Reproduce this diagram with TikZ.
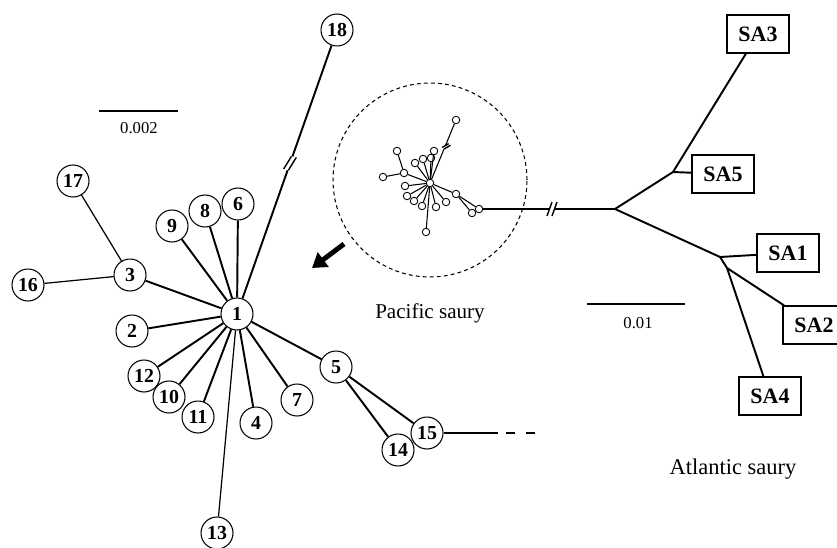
\documentclass[tikz,border=0pt]{standalone}
\usepackage{fontspec}
\setmainfont{Liberation Serif}
\usetikzlibrary{positioning, arrows, arrows.meta}

\tikzset{
    hap/.style={circle, draw, line width=0.6pt, minimum size=0.64cm, inner sep=0pt,
        font=\fontsize{11.3}{13}\selectfont\bfseries},
    mini/.style={circle, draw, line width=0.5pt, minimum size=0.15cm, inner sep=0pt},
    sabox/.style={rectangle, draw, line width=0.6pt, minimum width=1.24cm, minimum height=0.76cm,
        font=\fontsize{12.5}{14}\selectfont\bfseries},
    brk/.pic={
        \fill[white] (-4,7) -- (1,-7) -- (6,-7) -- (1,7) -- cycle;
        \draw[line width=0.8pt] (-4,7) -- (1,-7);
        \draw[line width=0.8pt] (1,7) -- (6,-7);
    },
}

\begin{document}
\begin{tikzpicture}[
            x=0.02cm, y=-0.02cm,
            branch/.style={line width=1.1pt},
            thinbranch/.style={line width=0.7pt},
            minibranch/.style={line width=0.6pt},
            scalelabel/.style={font=\fontsize{9.5}{11}\selectfont},
            tag/.style={font=\fontsize{12}{14}\selectfont},
        ]
            \useasboundingbox (0,0) rectangle (837,547);

            % haplotype network, Pacific saury
            \node[hap] (h1) at (237,314) {1};
            \node[hap] (h2) at (132,331) {2};
            \node[hap] (h3) at (130,275) {3};
            \node[hap] (h4) at (256,423) {4};
            \node[hap] (h5) at (336,367) {5};
            \node[hap] (h6) at (238,204) {6};
            \node[hap] (h7) at (297,400) {7};
            \node[hap] (h8) at (205,211) {8};
            \node[hap] (h9) at (172,226) {9};
            \node[hap] (h10) at (169,397) {10};
            \node[hap] (h11) at (198,417) {11};
            \node[hap] (h12) at (144,376) {12};
            \node[hap] (h13) at (217,533) {13};
            \node[hap] (h14) at (398,450) {14};
            \node[hap] (h15) at (427,433) {15};
            \node[hap] (h16) at (28,285) {16};
            \node[hap] (h17) at (73,181) {17};
            \node[hap] (h18) at (337,30) {18};

            \draw[thinbranch] (h17) -- (h3);
            \draw[thinbranch] (h16) -- (h3);
            \draw[branch] (h3) -- (h1);
            \draw[branch] (h2) -- (h1);
            \draw[branch] (h9) -- (h1);
            \draw[branch] (h8) -- (h1);
            \draw[branch] (h6) -- (h1);
            \draw[branch] (h18) -- (h1);
            \draw[branch] (h12) -- (h1);
            \draw[branch] (h10) -- (h1);
            \draw[branch] (h11) -- (h1);
            \draw[thinbranch] (h13) -- (h1);
            \draw[branch] (h4) -- (h1);
            \draw[branch] (h7) -- (h1);
            \draw[branch] (h5) -- (h1);
            \draw[branch] (h5) -- (h15);
            \draw[branch] (h5) -- (h14);
            \pic[rotate=-12] at (289,163) {brk};

            \coordinate (t15) at (498,433);
            \coordinate (t15a) at (506,433);
            \coordinate (t15b) at (536,433);
            \draw[branch] (h15) -- (t15);
            \draw[branch, dash pattern=on 5.1pt off 6.2pt] (t15a) -- (t15b);

            % scale bar
            \coordinate (bar2a) at (99,111);
            \coordinate (bar2b) at (178,111);
            \draw[branch] (bar2a) -- (bar2b);
            \node[scalelabel] (lab2) at (139,128) {0.002};

            % arrow
            \coordinate (arrtail) at (344,244);
            \coordinate (arrtip) at (312,268);
            \draw[line width=2.8pt, -{Triangle[length=8pt,width=10pt]}] (arrtail) -- (arrtip);

            % reduced copy of the network
            \node[draw, dashed, circle, line width=0.6pt, minimum size=3.88cm,
                dash pattern=on 2.2pt off 1.8pt] (pacific) at (430,180) {};
            \node[tag] (paclab) at (430,313) {Pacific saury};

            \node[mini] (m0) at (430,183) {};
            \node[mini] (m2) at (405,186) {};
            \node[mini] (m3) at (404,173) {};
            \node[mini] (m4) at (436,207) {};
            \node[mini] (m5) at (456,194) {};
            \node[mini] (m6) at (431,158) {};
            \node[mini] (m7) at (446,202) {};
            \node[mini] (m8) at (423,159) {};
            \node[mini] (m9) at (415,163) {};
            \node[mini] (m10) at (414,201) {};
            \node[mini] (m11) at (422,206) {};
            \node[mini] (m12) at (407,196) {};
            \node[mini] (m13) at (426,232) {};
            \node[mini] (m14) at (472,213) {};
            \node[mini] (m15) at (479,209) {};
            \node[mini] (m16) at (383,177) {};
            \node[mini] (m17) at (397,151) {};
            \node[mini] (m18) at (456,120) {};
            \node[mini] (mx) at (434,151) {};

            \draw[minibranch] (m17) -- (m3);
            \draw[minibranch] (m16) -- (m3);
            \draw[minibranch] (m3) -- (m0);
            \draw[minibranch] (m2) -- (m0);
            \draw[minibranch] (m9) -- (m0);
            \draw[minibranch] (m8) -- (m0);
            \draw[minibranch] (m6) -- (m0);
            \draw[minibranch] (mx) -- (m0);
            \draw[minibranch] (m18) -- (m0);
            \draw[minibranch] (m12) -- (m0);
            \draw[minibranch] (m10) -- (m0);
            \draw[minibranch] (m11) -- (m0);
            \draw[minibranch] (m13) -- (m0);
            \draw[minibranch] (m4) -- (m0);
            \draw[minibranch] (m7) -- (m0);
            \draw[minibranch] (m5) -- (m0);
            \draw[minibranch] (m5) -- (m15);
            \draw[minibranch] (m5) -- (m14);
            \pic[scale=0.5, rotate=-40] at (446,146) {brk};

            % Atlantic saury
            \coordinate (jA) at (615,209);
            \coordinate (jB) at (673,172);
            \coordinate (jC) at (720,257);
            \coordinate (jD) at (727,268);

            \node[sabox] (sa3) at (758,34) {SA3};
            \node[sabox] (sa5) at (723,174) {SA5};
            \node[sabox] (sa1) at (788,253) {SA1};
            \node[sabox] (sa2) at (814,325) {SA2};
            \node[sabox] (sa4) at (770,396) {SA4};

            \draw[branch] (m15) -- (jA);
            \pic at (551,209) {brk};
            \draw[branch] (jA) -- (jB);
            \draw[branch] (jA) -- (jC);
            \draw[branch] (jB) -- (sa3);
            \draw[branch] (jB) -- (sa5);
            \draw[branch] (jC) -- (sa1);
            \draw[branch] (jC) -- (jD);
            \draw[branch] (jD) -- (sa2);
            \draw[branch] (jD) -- (sa4);

            \coordinate (bar1a) at (587,304);
            \coordinate (bar1b) at (685,304);
            \draw[branch] (bar1a) -- (bar1b);
            \node[scalelabel] (lab1) at (638,323) {0.01};
            \node[tag, font=\fontsize{12.8}{15}\selectfont] (atllab) at (733,469) {Atlantic saury};
        \end{tikzpicture}
\end{document}
